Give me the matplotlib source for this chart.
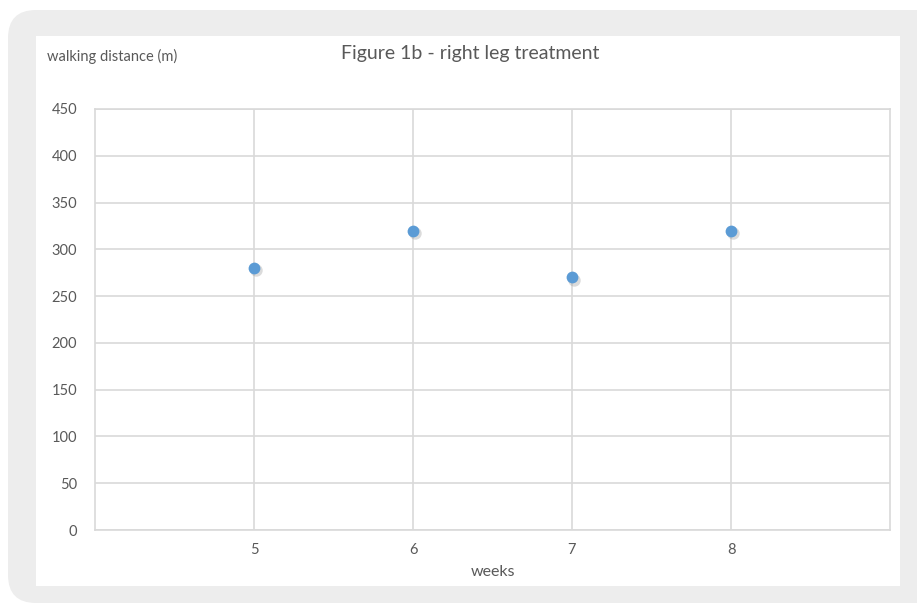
import matplotlib.pyplot as plt
from matplotlib.patches import FancyBboxPatch, Rectangle

# weekly walking distance after right leg treatment
weeks = [5, 6, 7, 8]
distance = [280, 320, 270, 320]
y_ticks = [0, 50, 100, 150, 200, 250, 300, 350, 400, 450]

txt = '#595959'
grid = '#d9d9d9'
blue = '#5b9bd5'

plt.rcParams['font.family'] = ['Lato', 'DejaVu Sans']

W, H = 917, 605
fig = plt.figure(figsize=(W / 100, H / 100), dpi=100)
fig.patch.set_facecolor('white')

# grey rounded card with white chart area on top (pixel coords)
card = FancyBboxPatch((8, 2), 960, 593,
                      boxstyle='round,pad=0,rounding_size=28',
                      transform=None, facecolor='#ededed',
                      edgecolor='none', zorder=0)
fig.patches.append(card)
panel = Rectangle((36 / W, (H - 586) / H), (900 - 36) / W, (586 - 36) / H,
                  transform=fig.transFigure, facecolor='white',
                  edgecolor='none', zorder=1)
fig.patches.append(panel)

ax = fig.add_axes([95 / W, (H - 530) / H, (890 - 95) / W, (530 - 109) / H])
ax.set_facecolor('none')
ax.set_zorder(2)

# soft drop shadow under each marker
ax.scatter([w + 0.012 for w in weeks], [d - 2.5 for d in distance], s=80,
           color='#9a9a9a', alpha=0.35, linewidths=0, zorder=3)
ax.scatter(weeks, distance, s=72, color=blue, linewidths=0, zorder=4)

ax.set_xlim(4, 9)
ax.set_ylim(0, 450)
ax.set_xticks(weeks)
ax.set_yticks(y_ticks)
ax.grid(True, color=grid, linewidth=1.2)
ax.set_axisbelow(True)
for s in ax.spines.values():
    s.set_color(grid)
    s.set_linewidth(1.2)
ax.tick_params(length=0, colors=txt, labelsize=10.5, pad=13)
ax.tick_params(axis='x', pad=9)

ax.set_xlabel('weeks', color=txt, fontsize=11.5, labelpad=6)
fig.text(470 / W, 1 - 53 / H, 'Figure 1b - right leg treatment', color=txt,
         fontsize=14, ha='center', va='center')
fig.text(47 / W, 1 - 56 / H, 'walking distance (m)', color=txt,
         fontsize=10.5, ha='left', va='center')

fig.savefig('out.png', dpi=100, facecolor=fig.get_facecolor())
